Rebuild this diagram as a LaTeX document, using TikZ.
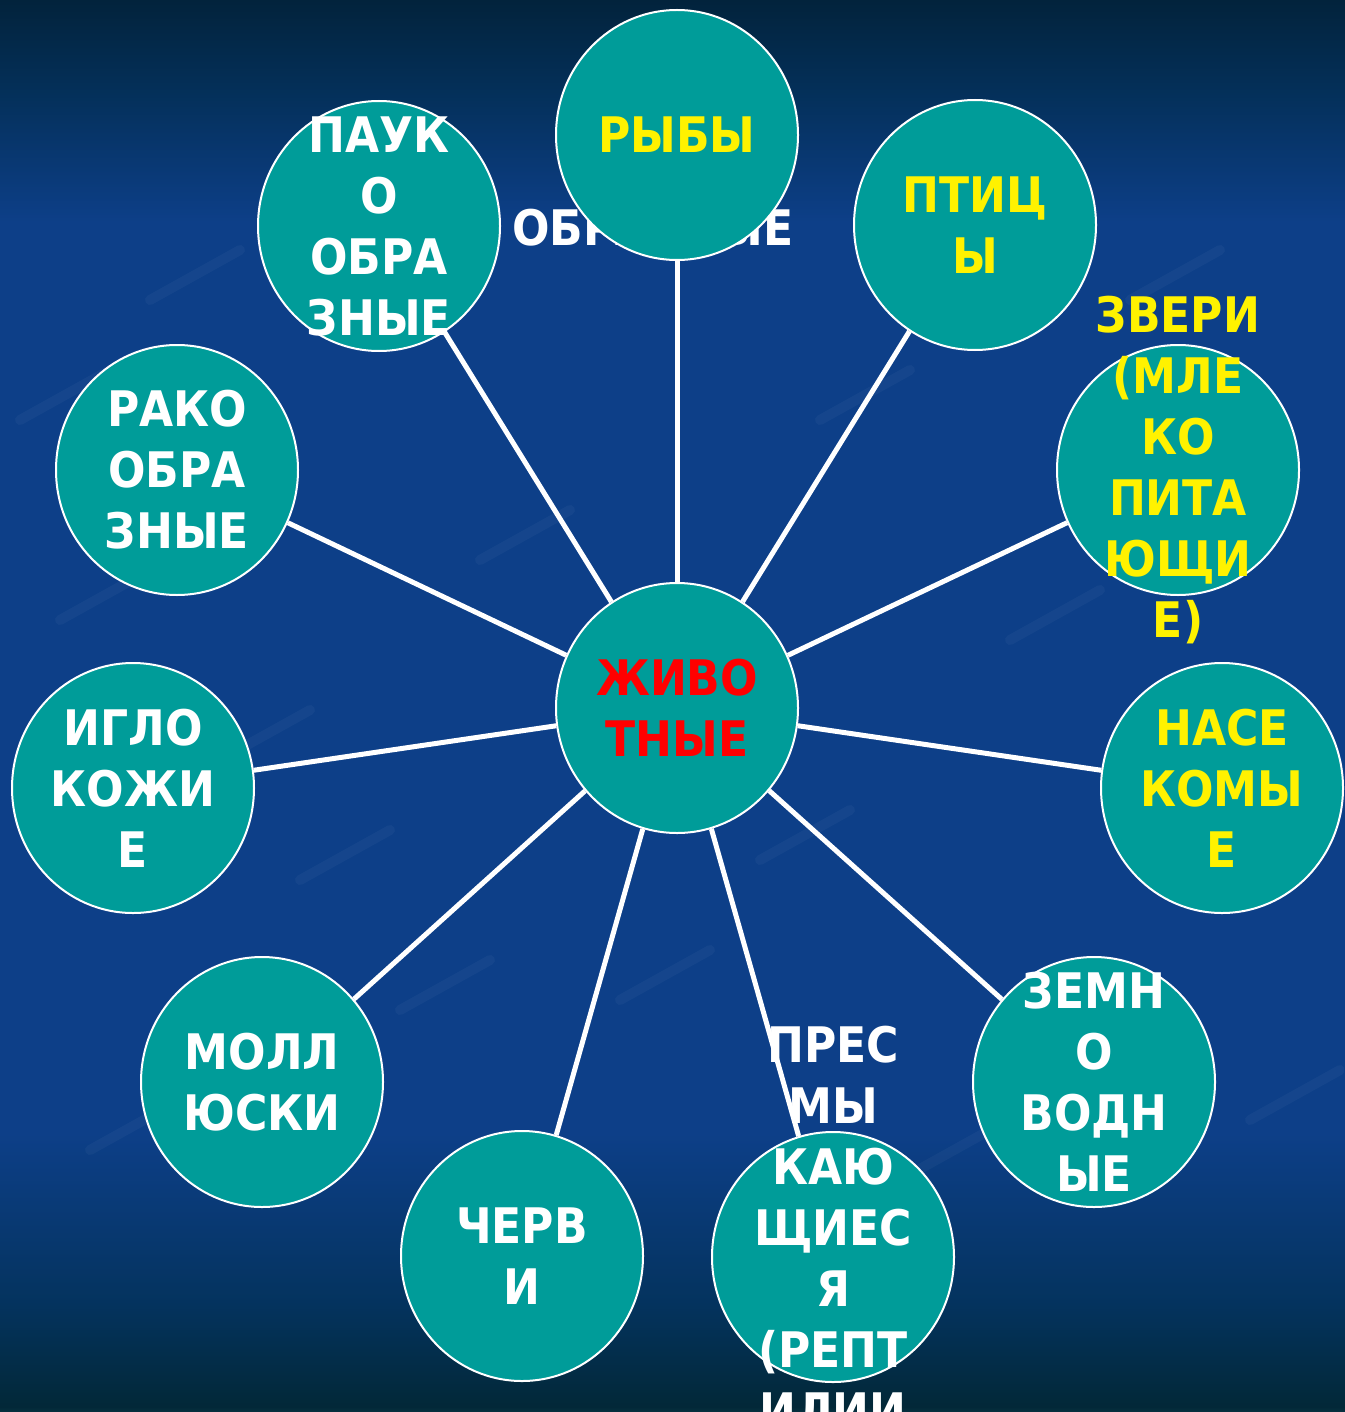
\documentclass[tikz,border=0pt]{standalone}
\usepackage{fontspec}
\setmainfont{DejaVu Sans Condensed}
\usetikzlibrary{shapes.geometric,backgrounds}

\definecolor{animalteal}{HTML}{009C99}
\definecolor{seatop}{HTML}{02223A}
\definecolor{seadarktop}{HTML}{04305A}
\definecolor{seamid}{HTML}{0D3F88}
\definecolor{seadarkbot}{HTML}{04335E}
\definecolor{seadeep}{HTML}{022838}
\definecolor{seabot}{HTML}{0A3A48}

% the path covers 25bp to 75bp of the shading
\pgfdeclareverticalshading{sea}{100bp}{%
  color(0bp)=(seabot); color(25bp)=(seabot); color(25.4bp)=(seadeep);
  color(29bp)=(seadarkbot); color(35bp)=(seamid); color(67bp)=(seamid);
  color(71.5bp)=(seadarktop); color(75bp)=(seatop); color(100bp)=(seatop)}

\pgfdeclarelayer{backdrop}
\pgfsetlayers{backdrop,background,main}

\begin{document}
\begin{tikzpicture}[x=0.5pt,y=-0.5pt,
    % circles
    animal/.style={
    ellipse,
    minimum width=121pt,minimum height=125pt,inner sep=0pt,
    fill=animalteal,draw=white,line width=1pt},
    % texts
    kindtext/.style={
    text=white,align=center,inner sep=0pt,
    font=\fontsize{24.5}{30.5}\selectfont\bfseries},
    spoke/.style={draw=white,line width=2.5pt},
    streak/.style={draw=white,opacity=0.035,line width=5pt,line cap=round}]

  \useasboundingbox (0,0) rectangle (1344,1412);
  \begin{pgfonlayer}{backdrop}
    \fill[shading=sea] (-6,-6) rectangle (1350,1418);
    % faint streaks of the sea texture
    \begin{scope}
      \clip (0,0) rectangle (1344,1412);
      \foreach \x/\y in {20/420,150/300,60/620,300/880,90/1150,480/560,
                         820/420,1010/640,1180/900,900/1180,1250/1120,
                         620/1000,400/1010,1130/300,760/860,220/760}
        \draw[streak] (\x,\y) -- ++(90,-50);
    \end{scope}
  \end{pgfonlayer}

  % text half hidden behind the fish circle
  \node (hidden-t) [kindtext] at (653,228) {ОБРАЗНЫЕ};

  \node (animals) [animal] at (677,708) {};
  \node (fish) [animal] at (677,135) {};
  \node (spiders) [animal] at (379,226) {};
  \node (birds) [animal] at (975,225) {};
  \node (mammals) [animal] at (1178,470) {};
  \node (crabs) [animal] at (177,470) {};
  \node (urchins) [animal] at (133,788) {};
  \node (insects) [animal] at (1222,788) {};
  \node (frogs) [animal] at (1094,1082) {};
  \node (molluscs) [animal] at (262,1082) {};
  \node (worms) [animal] at (522,1256) {};
  \node (reptiles) [animal] at (833,1257) {};

  \begin{scope}[on background layer]
    \foreach \kind in {fish,spiders,birds,mammals,crabs,urchins,
                       insects,frogs,molluscs,worms,reptiles}
      \draw[spoke] (animals) -- (\kind);
  \end{scope}

  \node (animals-t) [kindtext,text=red] at (animals) {ЖИВО\\ТНЫЕ};
  \node (fish-t) [kindtext,text=yellow] at (fish) {РЫБЫ};
  \node (spiders-t) [kindtext] at (spiders) {ПАУК\\О\\ОБРА\\ЗНЫЕ};
  \node (birds-t) [kindtext,text=yellow] at (birds) {ПТИЦ\\Ы};
  \node (mammals-t) [kindtext,text=yellow] at (mammals)
    {ЗВЕРИ\\(МЛЕ\\КО\\ПИТА\\ЮЩИ\\Е)};
  \node (crabs-t) [kindtext] at (crabs) {РАКО\\ОБРА\\ЗНЫЕ};
  \node (urchins-t) [kindtext] at (urchins) {ИГЛО\\КОЖИ\\Е};
  \node (insects-t) [kindtext,text=yellow] at (insects) {НАСЕ\\КОМЫ\\Е};
  \node (frogs-t) [kindtext] at (frogs) {ЗЕМН\\О\\ВОДН\\ЫЕ};
  \node (molluscs-t) [kindtext] at (molluscs) {МОЛЛ\\ЮСКИ};
  \node (worms-t) [kindtext] at (worms) {ЧЕРВ\\И};
  \node (reptiles-t) [kindtext] at ([yshift=15pt]reptiles)
    {ПРЕС\\МЫ\\КАЮ\\ЩИЕС\\Я\\(РЕПТ\\ИЛИИ};
\end{tikzpicture}
\end{document}
